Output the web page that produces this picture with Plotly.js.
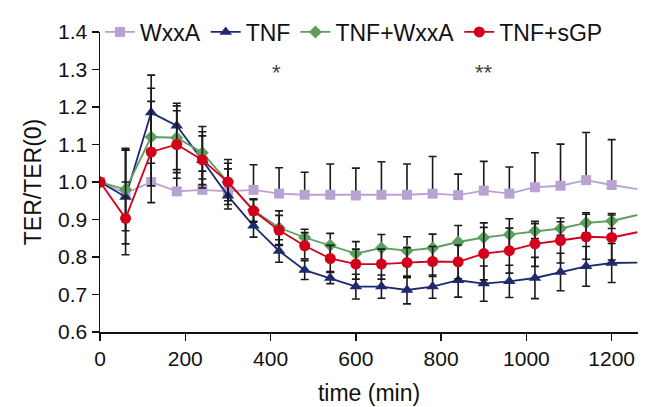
<!DOCTYPE html>
<html>
<head>
<meta charset="utf-8">
<script src="https://cdn.plot.ly/plotly-3.0.1.min.js"></script>
<style>html,body{margin:0;padding:0;background:#fff;}#chart{width:648px;height:407px;}</style>
</head>
<body>
<div id="chart"></div>
<script>
// time points (min)
var time = [0,60,120,180,240,300,360,420,480,540,600,660,720,780,840,900,960,1020,1080,1140,1200,1260];

// WxxA (purple squares), upper error only
var wxxa    = [1.0,0.97,1.0,0.975,0.979,0.975,0.979,0.969,0.966,0.966,0.964,0.966,0.966,0.969,0.965,0.977,0.969,0.986,0.99,1.005,0.992,0.981];
var wxxaErr = [0,0.115,0.05,0.05,0.05,0.06,0.067,0.069,0.06,0.082,0.073,0.088,0.082,0.099,0.056,0.078,0.071,0.092,0.111,0.127,0.121,0];

// TNF (blue triangles)
var tnf    = [1.0,0.96,1.185,1.15,1.058,0.963,0.883,0.816,0.765,0.744,0.721,0.721,0.712,0.721,0.738,0.729,0.735,0.744,0.76,0.775,0.784,0.785];
var tnfErr = [0,0.125,0.1,0.06,0.065,0.035,0.03,0.03,0.025,0.015,0.033,0.031,0.037,0.031,0.045,0.047,0.043,0.055,0.05,0.053,0.052,0];

// TNF+WxxA (green diamonds)
var tnfW    = [1.0,0.98,1.12,1.118,1.078,1.0,0.925,0.878,0.852,0.831,0.809,0.824,0.817,0.824,0.84,0.852,0.86,0.869,0.876,0.891,0.896,0.912];
var tnfWErr = [0,0.11,0.13,0.085,0.07,0.06,0.03,0.045,0.022,0.032,0.032,0.036,0.037,0.037,0.044,0.039,0.042,0.02,0.018,0.027,0.02,0];

// TNF+sGP (red circles)
var tnfS    = [1.0,0.903,1.08,1.1,1.059,1.0,0.923,0.871,0.83,0.796,0.781,0.781,0.785,0.788,0.787,0.809,0.817,0.835,0.844,0.854,0.852,0.866];
var tnfSErr = [0,0.097,0.135,0.09,0.075,0.05,0.03,0.04,0.035,0.035,0.04,0.04,0.04,0.04,0.045,0.07,0.06,0.06,0.06,0.06,0.06,0];

// significance marks
var starX = [415, 900];
var starY = [1.292, 1.292];
var starText = ['*', '**'];

var FONT = 'Liberation Sans, Arial, Helvetica, sans-serif';
// points beyond the last shown tick run off the plot edge (line only, no marker)
var nShown = time.filter(function(t){ return t <= 1200; }).length;

function errBar(arr, sym){
  var a = arr.slice(0, nShown);
  var o = {type:'data', array:a, color:'#1a1a1a', thickness:1.6, width:4, symmetric: sym};
  if(!sym){ o.arrayminus = a.map(function(){ return 0; }); }
  return o;
}

var series = [
  {name:'WxxA', y:wxxa, err:wxxaErr, sym:false, color:'#b9a2d1', symbol:'square', size:10},
  {name:'TNF', y:tnf, err:tnfErr, sym:true, color:'#1d2a70', symbol:'triangle-up', size:11},
  {name:'TNF+WxxA', y:tnfW, err:tnfWErr, sym:true, color:'#5c9e5c', symbol:'diamond', size:10},
  {name:'TNF+sGP', y:tnfS, err:tnfSErr, sym:true, color:'#d3001c', symbol:'circle', size:11}
];

var traces = [];
series.forEach(function(s){
  traces.push({x:time.slice(nShown-1), y:s.y.slice(nShown-1), mode:'lines', showlegend:false,
               hoverinfo:'skip', line:{color:s.color, width:1.8}});
});
series.forEach(function(s){
  traces.push({x:time.slice(0,nShown), y:s.y.slice(0,nShown), name:s.name, mode:'lines+markers',
               error_y:errBar(s.err, s.sym), line:{color:s.color, width:1.8},
               marker:{symbol:s.symbol, size:s.size, color:s.color}});
});

var annotations = starX.map(function(x,i){
  return {x:x, y:starY[i], xref:'x', yref:'y', text:starText[i], showarrow:false,
          font:{family:FONT, size:22, color:'#444'}};
});

var layout = {
  width:648, height:407,
  margin:{l:100, r:10, t:22, b:75, pad:0},
  paper_bgcolor:'#fff', plot_bgcolor:'#fff',
  font:{family:FONT, color:'#111'},
  showlegend:true,
  legend:{orientation:'h', x:0.0, xanchor:'left', y:1.0, yanchor:'middle',
          font:{family:FONT, size:23, color:'#111'}, bgcolor:'rgba(0,0,0,0)',
          itemwidth:30, tracegroupgap:0},
  xaxis:{range:[0,1261.7], tickvals:[0,200,400,600,800,1000,1200],
         showline:true, linecolor:'#111', linewidth:1.5, ticks:'outside', ticklen:7, tickwidth:1.5, tickcolor:'#111',
         showgrid:false, zeroline:false, tickfont:{size:21, family:FONT, color:'#111'},
         title:{text:'time (min)', font:{size:23, family:FONT, color:'#111'}, standoff:16}},
  yaxis:{range:[0.6,1.4], tickvals:[0.6,0.7,0.8,0.9,1.0,1.1,1.2,1.3,1.4], tickformat:'.1f',
         showline:true, linecolor:'#111', linewidth:1.5, ticks:'outside', ticklen:7, tickwidth:1.5, tickcolor:'#111',
         showgrid:false, zeroline:false, tickfont:{size:21, family:FONT, color:'#111'},
         title:{text:'TER/TER(0)', font:{size:23, family:FONT, color:'#111'}, standoff:10}},
  annotations:annotations
};

Plotly.newPlot('chart', traces, layout, {staticPlot:true, displayModeBar:false});
</script>
</body>
</html>
